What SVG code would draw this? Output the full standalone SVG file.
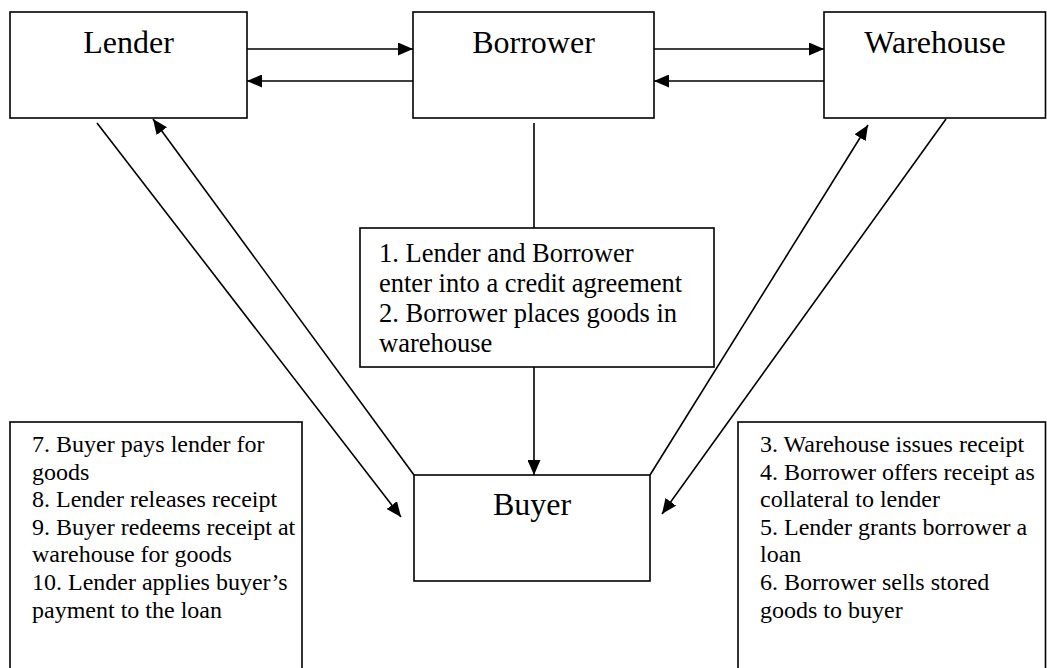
<svg xmlns="http://www.w3.org/2000/svg" width="1047" height="668" viewBox="0 0 1047 668">
<style>
.box{fill:#fff;stroke:#000;stroke-width:1.6}
.lbl{font-family:"Liberation Serif","Times New Roman",serif;font-size:32px;fill:#000;text-anchor:middle}
.txt{font-family:"Liberation Serif","Times New Roman",serif;font-size:24px;fill:#000}
.mid{font-family:"Liberation Serif","Times New Roman",serif;font-size:26.5px;fill:#000}
.ln{stroke:#000;stroke-width:1.6;fill:none}
.arr{stroke:#000;stroke-width:1.6;fill:none;marker-end:url(#ah)}
</style>
<defs>
<marker id="ah" viewBox="0 0 15 13" refX="15" refY="6.5" markerWidth="15" markerHeight="13" orient="auto" markerUnits="userSpaceOnUse">
<path d="M0,0 L15,6.5 L0,13 z" fill="#000"/>
</marker>
</defs>
<rect width="1047" height="668" fill="#fff"/>
<g id="connectors">
<line class="arr" x1="247" y1="49" x2="413" y2="49"/>
<line class="arr" x1="413" y1="81" x2="247" y2="81"/>
<line class="arr" x1="654" y1="49" x2="824" y2="49"/>
<line class="arr" x1="824" y1="81" x2="654" y2="81"/>
<line class="ln" x1="534" y1="123" x2="534" y2="228"/>
<line class="arr" x1="534" y1="367" x2="534" y2="475"/>
<line class="arr" x1="97" y1="123" x2="401" y2="517"/>
<line class="arr" x1="414" y1="475" x2="153" y2="119"/>
<line class="arr" x1="650" y1="475" x2="868" y2="125"/>
<line class="arr" x1="946" y1="119" x2="662" y2="514"/>
</g>
<g id="lender">
<rect class="box" x="10" y="12" width="237" height="106"/>
<text class="lbl" x="128.5" y="53">Lender</text>
</g>
<g id="borrower">
<rect class="box" x="413" y="12" width="241" height="106"/>
<text class="lbl" x="533.5" y="53">Borrower</text>
</g>
<g id="warehouse">
<rect class="box" x="824" y="12" width="221.5" height="106"/>
<text class="lbl" x="935" y="53">Warehouse</text>
</g>
<g id="steps12">
<rect class="box" x="360" y="228" width="354" height="139"/>
<text class="mid"><tspan x="379" y="262">1. Lender and Borrower</tspan><tspan x="379" y="292">enter into a credit agreement</tspan><tspan x="379" y="322">2. Borrower places goods in</tspan><tspan x="379" y="352">warehouse</tspan></text>
</g>
<g id="buyer">
<rect class="box" x="414" y="475" width="236" height="106"/>
<text class="lbl" x="532" y="515">Buyer</text>
</g>
<g id="steps710">
<rect class="box" x="10" y="422" width="292" height="260"/>
<text class="txt"><tspan x="32" y="452">7. Buyer pays lender for</tspan><tspan x="32" y="479.6">goods</tspan><tspan x="32" y="507.2">8. Lender releases receipt</tspan><tspan x="32" y="534.8">9. Buyer redeems receipt at</tspan><tspan x="32" y="562.4">warehouse for goods</tspan><tspan x="32" y="590">10. Lender applies buyer’s</tspan><tspan x="32" y="617.6">payment to the loan</tspan></text>
</g>
<g id="steps36">
<rect class="box" x="738" y="422" width="307.5" height="260"/>
<text class="txt"><tspan x="760" y="452">3. Warehouse issues receipt</tspan><tspan x="760" y="479.6">4. Borrower offers receipt as</tspan><tspan x="760" y="507.2">collateral to lender</tspan><tspan x="760" y="534.8">5. Lender grants borrower a</tspan><tspan x="760" y="562.4">loan</tspan><tspan x="760" y="590">6. Borrower sells stored</tspan><tspan x="760" y="617.6">goods to buyer</tspan></text>
</g>
</svg>
